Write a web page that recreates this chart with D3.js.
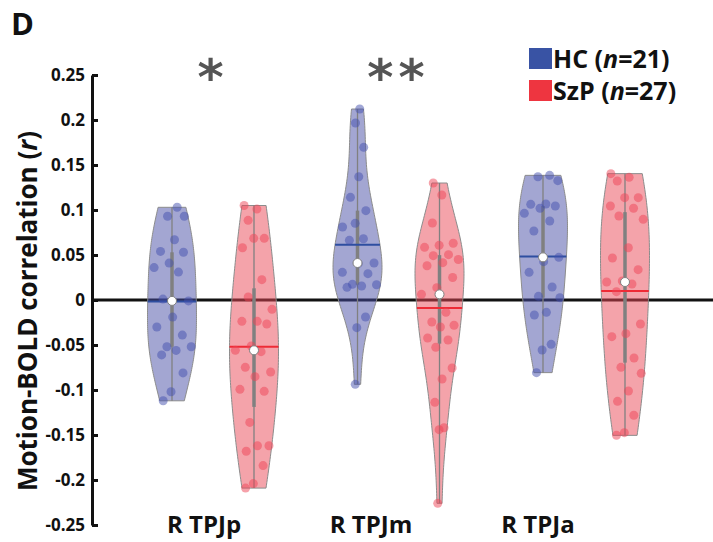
<!DOCTYPE html>
<html>
<head>
<meta charset="utf-8">
<script src="https://cdn.jsdelivr.net/npm/d3@7"></script>
<style>
  body { margin: 0; background: #fff; }
  text { font-family: "Open Sans", sans-serif; font-weight: 700; fill: #111; }
</style>
</head>
<body>
<script>
  // values (motion-BOLD r per subject)
  var regions = ["R TPJp", "R TPJm", "R TPJa"];
  var groups = ["HC", "SzP"];
  var groupN = [21, 27];
  var stars = ["*", "**", ""];
  var yTicks = [0.25, 0.2, 0.15, 0.1, 0.05, 0, -0.05, -0.1, -0.15, -0.2, -0.25];

  var hcTPJp = [0.103, 0.093, 0.093, 0.067, 0.054, 0.053, 0.041, 0.036, 0.031, 0.001, -0.001,
    -0.019, -0.030, -0.039, -0.052, -0.052, -0.056, -0.061, -0.081, -0.102, -0.112];
  var szTPJp = [0.105, 0.101, 0.0885, 0.0685, 0.0685, 0.058, 0.0226, 0.0033, -0.0104, -0.0237,
    -0.0237, -0.0267, -0.0511, -0.0559, -0.0574, -0.0748, -0.080, -0.0852, -0.0993, -0.1015,
    -0.136, -0.162, -0.162, -0.168, -0.184, -0.204, -0.209];
  var hcTPJm = [0.2122, 0.1967, 0.1696, 0.137, 0.1141, 0.0993, 0.0852, 0.0811, 0.0681, 0.0663,
    0.0411, 0.0404, 0.0307, 0.0293, 0.0174, 0.017, 0.0156, 0.0141, -0.0189, -0.0307, -0.0937];
  var szTPJm = [0.130, 0.1167, 0.0856, 0.063, 0.0607, 0.0585, 0.0504, 0.0493, 0.045, 0.0415,
    0.038, 0.025, 0.0137, 0.0063, -0.0137, -0.0244, -0.028, -0.030, -0.0422, -0.0444, -0.0526,
    -0.0756, -0.0878, -0.1137, -0.1419, -0.1441, -0.2259];
  var hcTPJa = [0.1385, 0.137, 0.1326, 0.1067, 0.1063, 0.1044, 0.1019, 0.0963, 0.0878, 0.0767,
    0.0474, 0.0426, 0.0307, 0.0144, 0.0041, 0.0026, -0.0137, -0.0167, -0.0493, -0.0556, -0.0807];
  var szTPJa = [0.1404, 0.1363, 0.1322, 0.1137, 0.1137, 0.1044, 0.1019, 0.0933, 0.0896, 0.0581,
    0.0467, 0.0337, 0.0211, 0.020, 0.0178, 0.0093, -0.0267, -0.0374, -0.0407, -0.0644, -0.0748,
    -0.0815, -0.1011, -0.1126, -0.1281, -0.1474, -0.1504];

  var values = {
    "R TPJp": {HC: hcTPJp, SzP: szTPJp},
    "R TPJm": {HC: hcTPJm, SzP: szTPJm},
    "R TPJa": {HC: hcTPJa, SzP: szTPJa}
  };

  var fillCol = {HC: "#474da5", SzP: "#e94755"};
  var dotCol = {HC: "#4450ad", SzP: "#ee4455"};
  var meanCol = {HC: "#2e4ea0", SzP: "#ee2b36"};
  var legendCol = {HC: "#3953a4", SzP: "#ee3540"};

  var W = 713, H = 542;
  var halfW = 24.5;

  var svg = d3.select("body").append("svg")
    .attr("width", W)
    .attr("height", H);

  var yScale = d3.scaleLinear().domain([-0.25, 0.25]).range([525, 75]);
  var xScale = d3.scalePoint().domain(regions).range([213, 584]);
  var xOff = d3.scalePoint().domain(groups).range([-41, 41]);
  var xLabel = d3.scalePoint().domain(regions).range([204, 538]);

  // zero line goes under the (translucent) violins
  svg.append("line")
    .attr("x1", 92).attr("x2", W)
    .attr("y1", yScale(0)).attr("y2", yScale(0))
    .attr("stroke", "#111").attr("stroke-width", 3);

  // kernel density like matlab ksdensity default, cut at data range
  function kde(vals) {
    var med = d3.median(vals);
    var mad = d3.median(vals, function(v){ return Math.abs(v - med); });
    var bw = (mad / 0.6745) * Math.pow(4 / (3 * vals.length), 0.2);
    var lo = d3.min(vals), hi = d3.max(vals);
    var pts = d3.range(100).map(function(i){ return lo + (hi - lo) * i / 99; });
    return pts.map(function(v){
      return [v, d3.mean(vals, function(x){ return Math.exp(-0.5 * Math.pow((v - x) / bw, 2)); })];
    });
  }

  function widthAt(dens, v) {
    var i = d3.bisector(function(d){ return d[0]; }).left(dens, v);
    if (i <= 0) return dens[0][1];
    if (i >= dens.length) return dens[dens.length - 1][1];
    var a = dens[i - 1], b = dens[i];
    var t = (v - a[0]) / (b[0] - a[0]);
    return a[1] + t * (b[1] - a[1]);
  }

  regions.forEach(function(r) {
    groups.forEach(function(g) {
      var vals = values[r][g];
      var cx = xScale(r) + xOff(g);
      var dens = kde(vals);
      var maxD = d3.max(dens, function(d){ return d[1]; });
      var wScale = d3.scaleLinear().domain([0, maxD]).range([0, halfW]);
      var grp = svg.append("g").attr("class", "violin");

      var area = d3.area()
        .x0(function(d){ return cx - wScale(d[1]); })
        .x1(function(d){ return cx + wScale(d[1]); })
        .y(function(d){ return yScale(d[0]); });

      grp.append("path")
        .datum(dens)
        .attr("d", area)
        .attr("fill", fillCol[g])
        .attr("fill-opacity", 0.5)
        .attr("stroke", "#8c8c8c")
        .attr("stroke-width", 1);

      // whisker (full range)
      grp.append("line")
        .attr("x1", cx).attr("x2", cx)
        .attr("y1", yScale(d3.max(vals))).attr("y2", yScale(d3.min(vals)))
        .attr("stroke", "#808080").attr("stroke-width", 1.3);

      var sorted = vals.slice().sort(d3.ascending);
      var q1 = d3.quantile(sorted, 0.25), q3 = d3.quantile(sorted, 0.75);
      grp.append("line")
        .attr("x1", cx).attr("x2", cx)
        .attr("y1", yScale(q3)).attr("y2", yScale(q1))
        .attr("stroke", "#808080").attr("stroke-width", 3.5);

      var mean = d3.mean(vals);
      var mw = wScale(widthAt(dens, mean));
      grp.append("line")
        .attr("x1", cx - mw).attr("x2", cx + mw)
        .attr("y1", yScale(mean)).attr("y2", yScale(mean))
        .attr("stroke", meanCol[g]).attr("stroke-width", 2);

      // jitter spread inside the violin (golden ratio sequence, no randomness)
      grp.selectAll("circle.pt")
        .data(vals)
        .enter()
        .append("circle")
        .attr("class", "pt")
        .attr("r", 4.5)
        .attr("cx", function(d, i){
          var u = ((i + 1) * 0.6180339887 + (g == "HC" ? 0.1 : 0.4)) % 1;
          return cx + (2 * u - 1) * wScale(widthAt(dens, d)) * 0.85;
        })
        .attr("cy", function(d){ return yScale(d); })
        .attr("fill", dotCol[g])
        .attr("fill-opacity", 0.5);

      grp.append("circle")
        .attr("cx", cx)
        .attr("cy", yScale(d3.median(vals)))
        .attr("r", 4.5)
        .attr("fill", "#fff")
        .attr("stroke", "#808080")
        .attr("stroke-width", 1);
    });
  });

  // y axis, ticks pointing inward
  var yAxis = d3.axisLeft(yScale)
    .tickValues(yTicks)
    .tickSizeInner(-6)
    .tickSizeOuter(0)
    .tickPadding(7)
    .tickFormat(function(d){ return String(+d.toFixed(2)); });

  var yAxisGroup = svg.append("g")
    .attr("transform", "translate(92,0)")
    .call(yAxis);
  yAxisGroup.select(".domain").attr("stroke", "#111").attr("stroke-width", 3);
  yAxisGroup.selectAll(".tick line").attr("stroke", "#111").attr("stroke-width", 3);
  yAxisGroup.selectAll(".tick text")
    .attr("fill", "#111")
    .style("font-family", "'Open Sans', sans-serif")
    .style("font-weight", 700)
    .style("font-size", "17px");

  var yTitle = svg.append("text")
    .attr("transform", "translate(37,311) rotate(-90)")
    .attr("text-anchor", "middle")
    .style("font-size", "26px");
  yTitle.append("tspan").text("Motion-BOLD correlation (");
  yTitle.append("tspan").style("font-style", "italic").text("r");
  yTitle.append("tspan").text(")");

  svg.selectAll("text.cat")
    .data(regions)
    .enter()
    .append("text")
    .attr("class", "cat")
    .attr("x", function(d){ return xLabel(d); })
    .attr("y", 533)
    .attr("text-anchor", "middle")
    .style("font-size", "24px")
    .text(function(d){ return d; });

  svg.selectAll("text.star")
    .data(stars)
    .enter()
    .append("text")
    .attr("class", "star")
    .attr("x", function(d){ return xScale(regions[stars.indexOf(d)]); })
    .attr("y", 95)
    .attr("text-anchor", "middle")
    .style("font-family", "'DejaVu Sans', sans-serif")
    .style("font-weight", 700)
    .style("font-size", "50px")
    .style("letter-spacing", "5px")
    .style("fill", "#555")
    .text(function(d){ return d; });

  svg.append("text")
    .attr("x", 11).attr("y", 35)
    .style("font-size", "31px")
    .text("D");

  // legend
  var leg = svg.append("g").attr("transform", "translate(529,48)");
  groups.forEach(function(g, i) {
    leg.append("rect")
      .attr("x", 0).attr("y", i * 32)
      .attr("width", 23).attr("height", 21)
      .attr("fill", legendCol[g]);
    var t = leg.append("text")
      .attr("x", 24).attr("y", i * 32 + 20)
      .style("font-size", "25px");
    t.append("tspan").text(g + " (");
    t.append("tspan").style("font-style", "italic").text("n");
    t.append("tspan").text("=" + groupN[i] + ")");
  });
</script>
</body>
</html>
